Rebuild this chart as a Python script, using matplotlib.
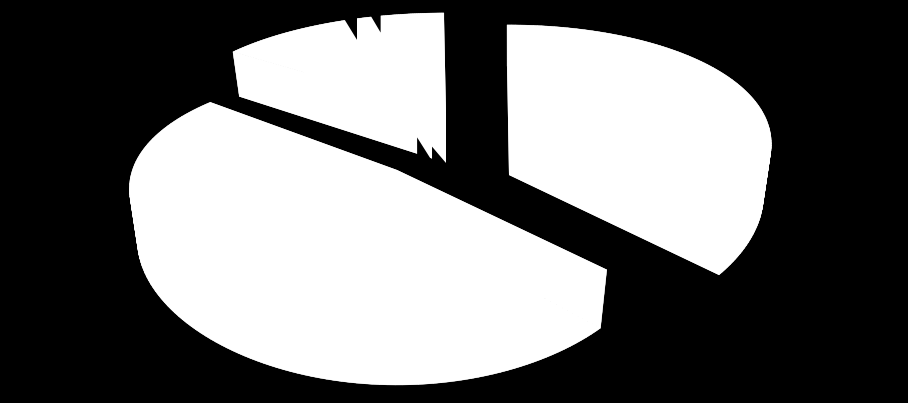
import numpy as np
import matplotlib
matplotlib.use('Agg')
import matplotlib.pyplot as plt

# pie shares, clockwise from the top
SLICE_NAMES = ['right', 'gap', 'big', 'left', 'thin_a', 'mid', 'thin_b', 'last']
SLICE_VALUES = [36.6, 1.0, 48.5, 7.4, 0.9, 0.85, 0.7, 4.05]
START_ANGLE = 90.5

# which piece of the exploded pie each slice belongs to (-1: nothing drawn)
GROUP_OF = [0, -1, 1, 2, 2, 2, 2, 2]
GROUP_APEX = [(509, 125), (397, 170), (446, 113)]
GROUP_WIDTH = [0.99, 1.01, 1.07]
GROUP_EXTRA = [0, 0, 5]
DRAW_ORDER = [2, 0, 1]

W_PX, H_PX = 908, 403
RX, RY = 262, 120.7
K_Y, K_X = 0.206, 0.15
DEPTH = 50
SHRINK = 0.03

# notch sizes for the two thin slices
TIP_R = {'thin_a': 0.74, 'thin_b': 0.80}
INNER_R = {'thin_a': 0.235, 'thin_b': 0.14}
INNER_TIP_R = {'thin_a': 0.05, 'thin_b': 0.0}
INNER_FOOT = {'thin_a': 26, 'thin_b': 19}


def project(apex, deg, r, z=0.0, width=1.0):
    u = r * np.cos(np.radians(deg))
    v = r * np.sin(np.radians(deg))
    wy = 1 / (1 + K_Y * v)
    wx = 1 / (1 + K_X * v)
    x = apex[0] + RX * width * u * wx * (1 - SHRINK * z)
    y = apex[1] - RY * v * wy + DEPTH * z * wy
    return np.column_stack([x, y])


def draw_group(ax, apex, a0, a1, width):
    # a0 > a1, going clockwise
    deg = np.linspace(a0, a1, 120)
    top = project(apex, deg, np.ones_like(deg), 0.0, width)
    bottom = project(apex, deg, np.ones_like(deg), 1.0, width)
    tip_top = project(apex, np.array([a0]), np.array([0.0]))
    tip_bot = project(apex, np.array([a0]), np.array([0.0]), 1.0)
    ax.fill(*np.vstack([tip_top, top]).T, color='white', lw=0)
    ax.fill(*np.vstack([tip_bot, bottom]).T, color='white', lw=0)
    for i in range(len(deg) - 1):
        quad = np.vstack([top[i], top[i + 1], bottom[i + 1], bottom[i]])
        ax.fill(*quad.T, color='white', lw=0.3, ec='white')
    for e_top, e_bot in ((top[0], bottom[0]), (top[-1], bottom[-1])):
        ax.fill(*np.vstack([tip_top, e_top, e_bot, tip_bot]).T, color='white', lw=0)


def draw_notch(ax, apex, a_hi, a_lo, name, width):
    # cut at the back rim, its inner side runs straight down
    rim = project(apex, np.array([a_hi, a_lo]), np.array([1.03, 1.03]), 0.0, width)
    tip = project(apex, np.array([a_lo]), np.array([TIP_R[name]]), 0.0, width)
    tip[0, 0] = rim[1, 0]
    ax.fill(*np.vstack([rim, tip]).T, color='black', lw=0)
    # matching cut at the slice point, on the lower edge
    head = project(apex, np.array([a_hi + 6]), np.array([INNER_R[name]]), 1.0)
    end = project(apex, np.array([180.0]), np.array([INNER_TIP_R[name]]), 1.0)
    foot = head + np.array([[0, INNER_FOOT[name]]])
    ax.fill(*np.vstack([head, foot, end]).T, color='black', lw=0)


shares = np.array(SLICE_VALUES) / sum(SLICE_VALUES) * 360
edges = START_ANGLE - np.concatenate([[0], np.cumsum(shares)])
groups = np.array(GROUP_OF)

fig = plt.figure(figsize=(W_PX / 100, H_PX / 100), dpi=100, facecolor='black')
ax = fig.add_axes([0, 0, 1, 1])
ax.set_xlim(0, W_PX)
ax.set_ylim(H_PX, 0)
ax.set_facecolor('black')
ax.axis('off')

for g in DRAW_ORDER:
    idx = np.where(groups == g)[0]
    draw_group(ax, GROUP_APEX[g], edges[idx[0]] + GROUP_EXTRA[g],
               edges[idx[-1] + 1], GROUP_WIDTH[g])
    if g == 2:
        for i, name in enumerate(SLICE_NAMES):
            if name.startswith('thin'):
                draw_notch(ax, GROUP_APEX[g], edges[i], edges[i + 1], name, GROUP_WIDTH[g])

fig.savefig('out.png', dpi=100, facecolor='black')
